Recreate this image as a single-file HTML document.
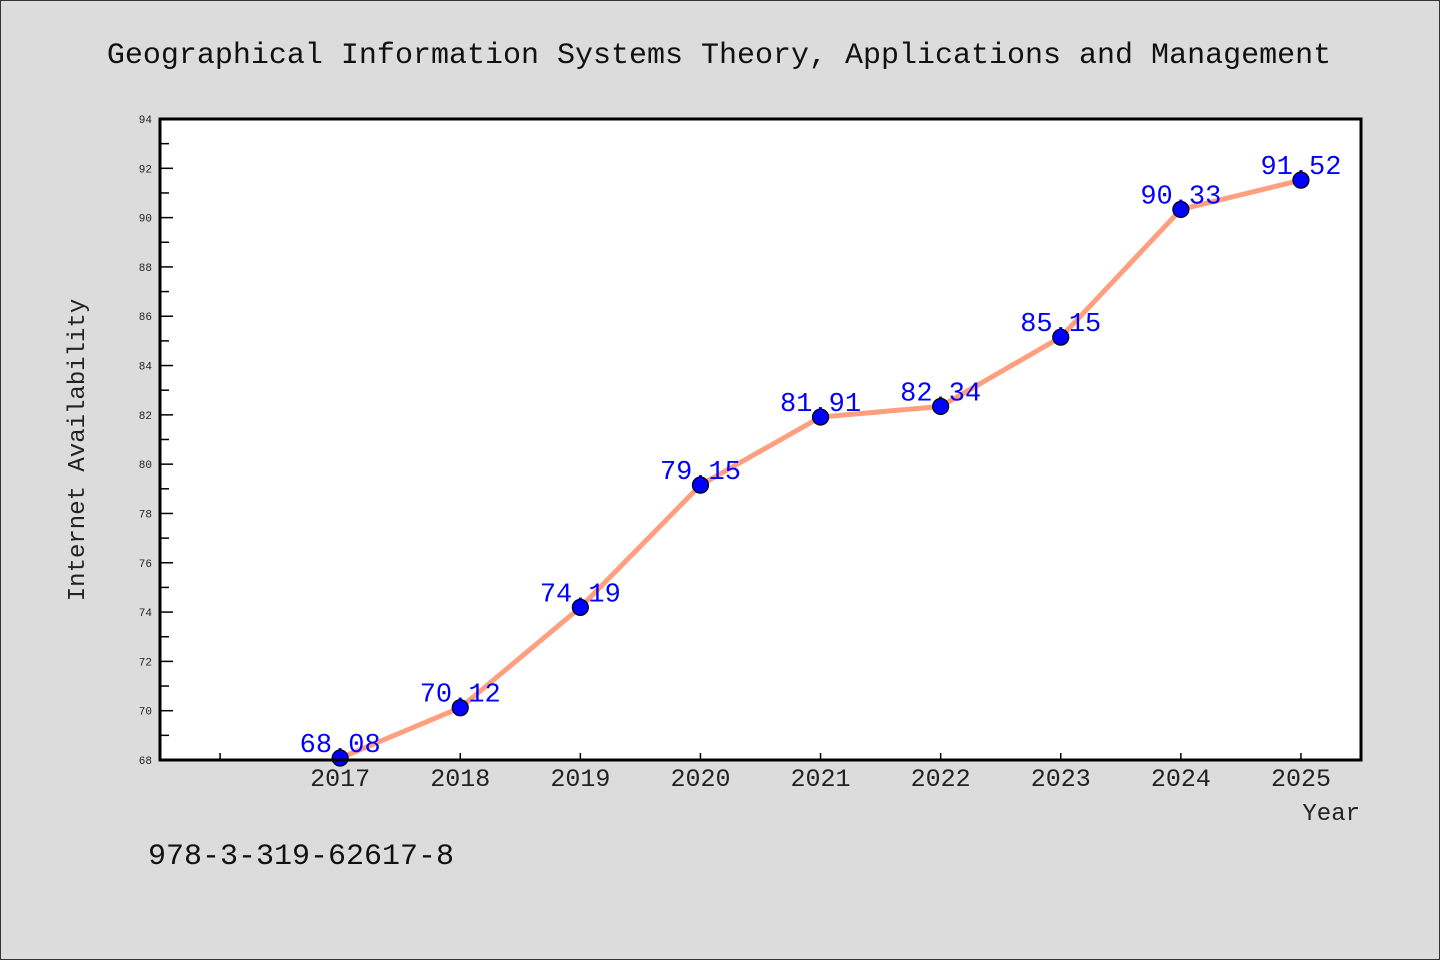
<!DOCTYPE html>
<html><head><meta charset="utf-8"><style>
html,body{margin:0;padding:0;background:#dcdcdc;}
svg{display:block;font-family:"Liberation Mono","DejaVu Sans Mono",monospace;}
</style></head><body>
<svg id="chart" width="1440" height="960" viewBox="0 0 1440 960">
<rect x="0.5" y="0.5" width="1439" height="959" fill="#dcdcdc" stroke="#333"/>
<text x="719" y="63" font-size="30" text-anchor="middle" fill="#111">Geographical Information Systems Theory, Applications and Management</text>
<rect x="160" y="119" width="1201" height="641" fill="#fff"/>
<g id="axes"></g>
<g id="series"></g>
<rect x="160" y="119" width="1201" height="641" fill="none" stroke="#000" stroke-width="3"/>
<text transform="translate(84,450) rotate(-90)" font-size="24" text-anchor="middle" fill="#222">Internet Availability</text>
<text x="1360" y="820" font-size="24" text-anchor="end" fill="#222">Year</text>
<text x="148" y="864" font-size="30" fill="#111">978-3-319-62617-8</text>
</svg>
<script>
const years = [2017,2018,2019,2020,2021,2022,2023,2024,2025];
const values = [68.08,70.12,74.19,79.15,81.91,82.34,85.15,90.33,91.52];
const valueLabels = ["68.08","70.12","74.19","79.15","81.91","82.34","85.15","90.33","91.52"];
const yTicks = [68,70,72,74,76,78,80,82,84,86,88,90,92,94];
const xTicks = [2016,2017,2018,2019,2020,2021,2022,2023,2024,2025];

const L=160,R=1361,T=119,B=760;
const xDomain=[2015.5,2025.5], yDomain=[68,94];
const xs=v=>L+(v-xDomain[0])/(xDomain[1]-xDomain[0])*(R-L);
const ys=v=>B-(v-yDomain[0])/(yDomain[1]-yDomain[0])*(B-T);
const NS="http://www.w3.org/2000/svg";
const axes=document.getElementById('axes'), series=document.getElementById('series');
function mk(tag,attrs,parent,text){const e=document.createElementNS(NS,tag);for(const k in attrs)e.setAttribute(k,attrs[k]);if(text!==undefined)e.textContent=text;parent.appendChild(e);return e;}

yTicks.forEach((t,i)=>{
  const y=ys(t);
  const tk=mk('line',{x1:L,x2:L+13,y1:y,y2:y,stroke:'#000','stroke-width':1.5},axes);
  
  
  if(i<yTicks.length-1){
    const ym=ys(t+1);
    const mt=mk('line',{x1:L,x2:L+9,y1:ym,y2:ym,stroke:'#000','stroke-width':1.5},axes);
    
    
  }
  const lb=mk('text',{x:L-8,y:y+4,'font-size':11,'text-anchor':'end',fill:'#222'},axes,String(t));
  
  
});
xTicks.forEach(t=>{
  const x=xs(t);
  const tk=mk('line',{x1:x,x2:x,y1:B,y2:B-7,stroke:'#000','stroke-width':1.5},axes);
  
  
});
years.forEach(t=>{
  const lb=mk('text',{x:xs(t),y:B+26,'font-size':25,'text-anchor':'middle',fill:'#222'},axes,String(t));
  
  
});
const pts=years.map((yr,i)=>xs(yr)+','+ys(values[i])).join(' ');
const line=mk('polyline',{points:pts,fill:'none',stroke:'#ff9f7f','stroke-width':5,'stroke-linejoin':'round'},series);


years.forEach((yr,i)=>{
  const lb=mk('text',{x:xs(yr),y:ys(values[i])-6,'font-size':27,'text-anchor':'middle',fill:'#0000ff'},series,valueLabels[i]);
  
  
});
years.forEach((yr,i)=>{
  const c=mk('circle',{cx:xs(yr),cy:ys(values[i]),r:8,fill:'#0000ff',stroke:'#000','stroke-width':1.2},series);
  
  
});
</script>
</body></html>
